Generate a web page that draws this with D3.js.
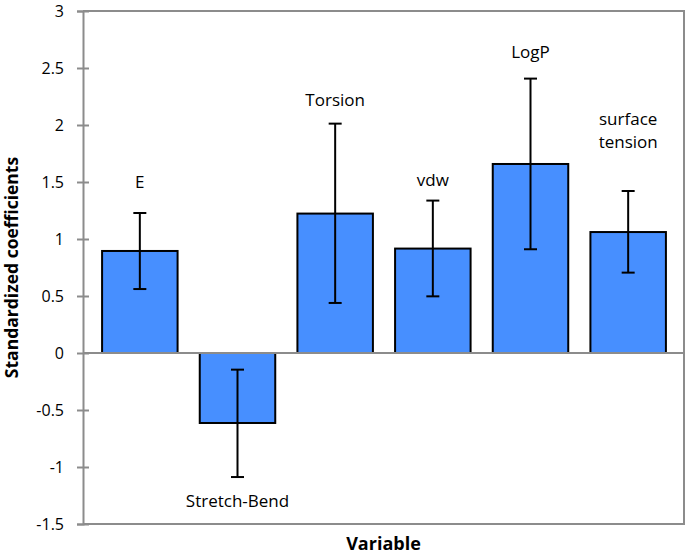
<!DOCTYPE html>
<html>
<head>
<meta charset="utf-8">
<script src="https://cdn.jsdelivr.net/npm/d3@7"></script>
<style>
  body { margin: 0; background: #fff; }
  svg { display: block; font-family: "Open Sans", sans-serif; }
</style>
</head>
<body>
<div id="chart"></div>
<script>
// --- data ---
const variables = ["E", "Stretch-Bend", "Torsion", "vdw", "LogP", "surface tension"];
const coefficients = [0.895, -0.614, 1.223, 0.916, 1.658, 1.061];
const errorLow = [0.561, -1.088, 0.439, 0.497, 0.910, 0.705];
const errorHigh = [1.228, -0.146, 2.012, 1.337, 2.407, 1.421];
// where each category label sits, in axis units
const labelAt = [1.50, -1.30, 2.22, 1.52, 2.64, 1.95];
const yTicks = [-1.5, -1, -0.5, 0, 0.5, 1, 1.5, 2, 2.5, 3];

const width = 686, height = 559;
const plot = { left: 83, right: 684, top: 11, bottom: 524 };

const svg = d3.select("#chart").append("svg")
    .attr("width", width)
    .attr("height", height);

const y = d3.scaleLinear()
    .domain([-1.5, 3])
    .range([plot.bottom, plot.top]);

const x = d3.scaleBand()
    .domain(variables)
    .range([91, 677])
    .paddingInner(0.227)
    .paddingOuter(0.1135);

const axisGray = "#8c8c8c";

// plot frame (top and right edges)
svg.append("path")
    .attr("d", `M${plot.left},${plot.top}H${plot.right}V${plot.bottom}H${plot.left}`)
    .attr("fill", "none")
    .attr("stroke", axisGray)
    .attr("stroke-width", 2);

// y axis
const yAxis = svg.append("g")
    .attr("transform", `translate(${plot.left},0)`)
    .call(d3.axisLeft(y).tickValues(yTicks).tickSize(6).tickPadding(13)
        .tickFormat(d => String(d)));
yAxis.select(".domain").attr("stroke", axisGray).attr("stroke-width", 2);
yAxis.selectAll(".tick line")
    .attr("x1", 6).attr("x2", -6)
    .attr("stroke", axisGray).attr("stroke-width", 2);
yAxis.selectAll(".tick text")
    .attr("font-size", 16)
    .attr("font-family", "Open Sans, sans-serif")
    .attr("fill", "#000");

// bars
const rows = variables.map((v, i) => ({
    name: v, value: coefficients[i], lo: errorLow[i], hi: errorHigh[i], lab: labelAt[i]
}));

svg.append("g").selectAll("rect")
    .data(rows)
    .enter().append("rect")
    .attr("x", d => x(d.name))
    .attr("width", x.bandwidth())
    .attr("y", d => y(Math.max(0, d.value)))
    .attr("height", d => Math.abs(y(d.value) - y(0)))
    .attr("fill", "#478fff")
    .attr("stroke", "#000")
    .attr("stroke-width", 2);

// zero line
svg.append("line")
    .attr("x1", plot.left).attr("x2", plot.right)
    .attr("y1", y(0)).attr("y2", y(0))
    .attr("stroke", axisGray)
    .attr("stroke-width", 2);

// error bars
const err = svg.append("g")
    .attr("stroke", "#000")
    .attr("stroke-width", 2);
rows.forEach(d => {
    const cx = x(d.name) + x.bandwidth() / 2;
    err.append("line").attr("x1", cx).attr("x2", cx).attr("y1", y(d.lo)).attr("y2", y(d.hi));
    err.append("line").attr("x1", cx - 6.5).attr("x2", cx + 6.5).attr("y1", y(d.lo)).attr("y2", y(d.lo));
    err.append("line").attr("x1", cx - 6.5).attr("x2", cx + 6.5).attr("y1", y(d.hi)).attr("y2", y(d.hi));
});

// category labels
rows.forEach(d => {
    const cx = x(d.name) + x.bandwidth() / 2;
    const words = d.name === "surface tension" ? ["surface", "tension"] : [d.name];
    const t = svg.append("text")
        .attr("x", cx)
        .attr("y", y(d.lab))
        .attr("text-anchor", "middle")
        .attr("font-size", 17)
        .attr("fill", "#000");
    words.forEach((w, k) => {
        t.append("tspan")
            .attr("x", cx)
            .attr("dy", k === 0 ? (0.35 - (words.length - 1) * 0.68) + "em" : "1.36em")
            .text(w);
    });
});

// axis titles
svg.append("text")
    .attr("x", (plot.left + plot.right) / 2)
    .attr("y", 550)
    .attr("text-anchor", "middle")
    .attr("font-size", 18)
    .attr("font-weight", "bold")
    .text("Variable");

svg.append("text")
    .attr("transform", `translate(18,${(plot.top + plot.bottom) / 2}) rotate(-90)`)
    .attr("text-anchor", "middle")
    .attr("font-size", 17.5)
    .attr("font-weight", "bold")
    .text("Standardized coefficients");
</script>
</body>
</html>
